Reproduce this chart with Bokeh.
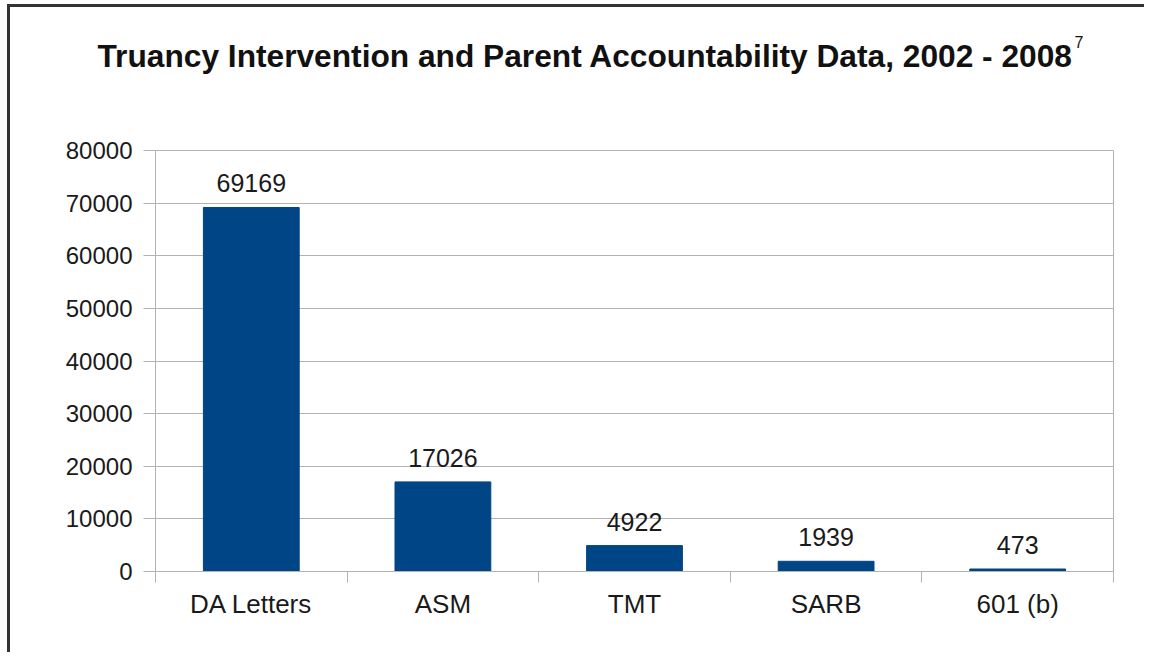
from bokeh.plotting import figure
from bokeh.models import FixedTicker, Range1d, ColumnDataSource
from bokeh.core.properties import value
from bokeh.embed import file_html
from bokeh.resources import INLINE

categories = ["DA Letters", "ASM", "TMT", "SARB", "601 (b)"]
values = [69169, 17026, 4922, 1939, 473]
y_ticks = [0, 10000, 20000, 30000, 40000, 50000, 60000, 70000, 80000]
title_text = "Truancy Intervention and Parent Accountability Data, 2002 - 2008"
footnote_mark = "7"

FONT = "Liberation Sans"
GRID = "#b3b3b3"
BAR = "#004586"
TXT = "#1a1a1a"
FRAME = "3px solid #333333"
W = 1137
TITLE_H = 100

# ---- title strip (pixel coordinate space) ----
tp = figure(width=W, height=TITLE_H, output_backend="svg", toolbar_location=None,
            x_range=Range1d(0, W), y_range=Range1d(0, TITLE_H),
            x_axis_location=None, y_axis_location=None,
            min_border=0, outline_line_color=None)
tp.grid.visible = False
tp.text(x=[87], y=[52], text=[title_text], text_font=value(FONT), text_font_size="31.7px",
        text_font_style="bold", text_color="#111111", text_align="left",
        text_baseline="alphabetic")
tp.text(x=[1064], y=[66], text=[footnote_mark], text_font=value(FONT), text_font_size="16px",
        text_color="#111111", text_align="left", text_baseline="alphabetic")
tp.styles = {"border-left": FRAME, "border-top": FRAME, "margin-left": "7px", "margin-top": "4px"}

# ---- bar chart ----
xs = [i + 0.5 for i in range(len(categories))]
src = ColumnDataSource(dict(x=xs, top=values, label=[str(v) for v in values]))

p = figure(width=W, height=548, output_backend="svg", toolbar_location=None,
           x_range=Range1d(0, len(categories)), y_range=Range1d(0, 80000),
           min_border_left=145, min_border_right=34, min_border_top=46, min_border_bottom=81)

p.vbar(x="x", top="top", width=0.5, bottom=0, source=src, fill_color=BAR, line_color=BAR)
p.text(x="x", y="top", text="label", source=src, text_align="center", text_baseline="bottom",
       y_offset=-15, text_font=value(FONT), text_font_size="25px", text_color=TXT)

p.outline_line_color = GRID
p.xgrid.visible = False
p.ygrid.grid_line_color = GRID
p.ygrid.ticker = FixedTicker(ticks=y_ticks)

ya = p.yaxis[0]
ya.ticker = FixedTicker(ticks=y_ticks)
ya.axis_line_color = GRID
ya.major_tick_line_color = GRID
ya.major_tick_out = 12
ya.major_tick_in = 0
ya.minor_tick_line_color = None
ya.major_label_standoff = 11
ya.major_label_text_font = FONT
ya.major_label_text_font_size = "24px"
ya.major_label_text_color = TXT

xa = p.xaxis[0]
xa.ticker = FixedTicker(ticks=xs, minor_ticks=list(range(len(categories) + 1)))
xa.major_label_overrides = {x: c for x, c in zip(xs, categories)}
xa.axis_line_color = GRID
xa.major_tick_line_color = None
xa.major_tick_out = 0
xa.major_tick_in = 0
xa.minor_tick_line_color = GRID
xa.minor_tick_out = 11
xa.minor_tick_in = 0
xa.major_label_standoff = 6
xa.major_label_text_font = FONT
xa.major_label_text_font_size = "26px"
xa.major_label_text_color = TXT
p.styles = {"border-left": FRAME, "margin-left": "7px"}

open("out.html", "w").write(file_html([tp, p], INLINE))
